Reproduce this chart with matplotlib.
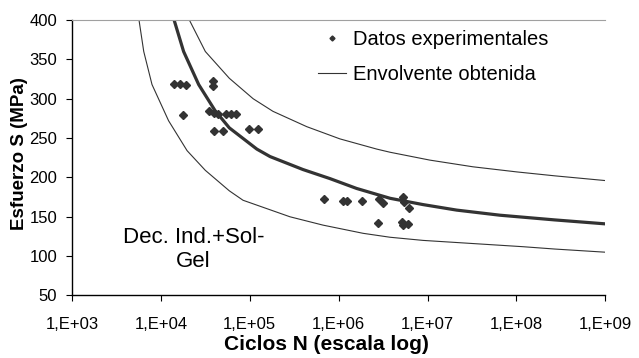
import numpy as np
import matplotlib.pyplot as plt
from matplotlib.ticker import FixedLocator, NullLocator

plt.rcParams['font.family'] = ['Liberation Sans', 'DejaVu Sans']

# ensayos: ciclos a rotura y esfuerzo aplicado
ciclos = [1.40e4, 1.64e4, 1.94e4, 3.86e4, 3.86e4, 1.77e4,
          3.48e4, 3.96e4, 4.39e4, 5.40e4, 6.15e4, 6.99e4,
          3.96e4, 4.93e4, 9.80e4, 1.24e5,
          6.92e5, 1.12e6, 1.24e6, 1.83e6, 2.84e6, 3.11e6, 2.80e6,
          5.29e6, 5.43e6, 6.18e6, 5.15e6, 5.29e6, 6.02e6]
esfuerzo = [319, 319, 317, 323, 316, 279,
            284, 282, 280, 281, 281, 280,
            259, 259, 261, 261,
            173, 170, 170, 170, 173, 168, 142,
            175, 169, 161, 144, 139, 141]

# curva media
n_med = [1.39e4, 1.80e4, 2.66e4, 4.06e4, 5.88e4, 1.20e5, 1.69e5, 3.97e5,
         7.98e5, 1.59e6, 3.78e6, 8.88e6, 2.12e7, 6.52e7, 2.71e8, 1.0e9]
s_med = [402, 360, 318, 285, 263, 236, 226.5, 210,
         198.5, 186, 173.5, 165.5, 158.5, 152, 146, 141]

# envolvente inferior
n_inf = [5.67e3, 6.41e3, 7.94e3, 1.22e4, 1.97e4, 3.16e4, 5.88e4, 8.39e4,
         2.83e5, 6.66e5, 1.88e6, 3.78e6, 8.88e6, 3.24e7, 1.18e8, 2.71e8, 1.0e9]
s_inf = [400, 360, 318, 272, 234, 209, 183, 171,
         150, 139.4, 129, 124, 120, 116, 112, 109, 105]

# envolvente superior
n_sup = [2.09e4, 3.16e4, 5.88e4, 1.09e5, 1.82e5, 4.37e5, 1.03e6, 2.68e6,
         3.78e6, 1.06e7, 3.24e7, 1.01e8, 2.71e8, 1.0e9]
s_sup = [400, 360, 326, 300, 284, 264.5, 249, 236,
         232, 222, 213.5, 207, 202, 196]

x_ticks = [1e3, 1e4, 1e5, 1e6, 1e7, 1e8, 1e9]
x_labels = ['1,E+03', '1,E+04', '1,E+05', '1,E+06', '1,E+07', '1,E+08', '1,E+09']
y_ticks = [50, 100, 150, 200, 250, 300, 350, 400]

gris = '#333333'

fig = plt.figure(figsize=(6.39, 3.58), dpi=100)
ax = fig.add_axes([0.1127, 0.1746, 0.8347, 0.7695])

ax.plot(n_inf, s_inf, color=gris, lw=0.8, label='Envolvente obtenida')
ax.plot(n_sup, s_sup, color=gris, lw=0.8)
ax.plot(n_med, s_med, color=gris, lw=2.3, solid_capstyle='butt')
ax.plot(ciclos, esfuerzo, ls='none', marker='D', ms=3.9, color=gris,
        label='Datos experimentales')

ax.set_xscale('log')
ax.set_xlim(1e3, 1e9)
ax.set_ylim(50, 400)
ax.xaxis.set_major_locator(FixedLocator(x_ticks))
ax.xaxis.set_minor_locator(NullLocator())
ax.set_xticklabels(x_labels)
ax.set_yticks(y_ticks)

ax.spines['right'].set_visible(False)
ax.spines['top'].set_color('#a0a0a0')
ax.spines['left'].set_linewidth(1.0)
ax.spines['bottom'].set_linewidth(1.0)
ax.tick_params(axis='both', direction='out', length=4.3, width=0.8, labelsize=12)
ax.tick_params(axis='y', pad=6.5)
ax.tick_params(axis='x', pad=11)

h, l = ax.get_legend_handles_labels()
ax.legend(h[::-1], l[::-1], loc='upper left', bbox_to_anchor=(0.461, 0.962),
          frameon=False, fontsize=14.5, handlelength=1.42, handletextpad=0.3,
          borderpad=0, borderaxespad=0, labelspacing=0.75, markerscale=0.65)

ax.text(0.228, 0.167, 'Dec. Ind.+Sol-\nGel', transform=ax.transAxes,
        fontsize=16, ha='center', va='center', multialignment='center',
        linespacing=1.15)

fig.text(326 / 639, 1 - 345 / 358, 'Ciclos N (escala log)', fontsize=15,
         fontweight='bold', ha='center', va='center')
fig.text(20 / 639, 1 - 154 / 358, 'Esfuerzo S (MPa)', fontsize=13.5,
         fontweight='bold', ha='center', va='center', rotation=90)

fig.savefig('out.png', dpi=100)
